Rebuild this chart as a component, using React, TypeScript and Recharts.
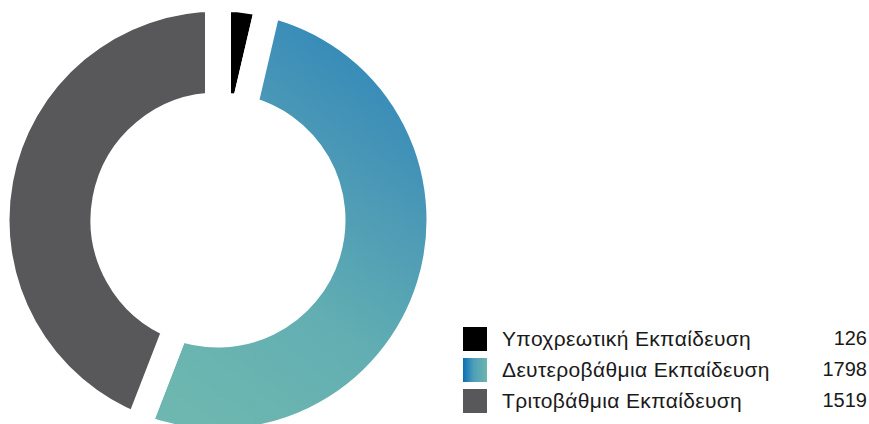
import { PieChart, Pie, Cell, Legend } from 'recharts';

const categories = ['Υποχρεωτική Εκπαίδευση', 'Δευτεροβάθμια Εκπαίδευση', 'Τριτοβάθμια Εκπαίδευση'];
const values = [126, 1798, 1519];
const colors = ['#000000', 'url(#tealGrad)', '#58585a'];
const swatches = ['#000000', 'linear-gradient(to right, #0b6fb5, #4f9fb8 45%, #6cb5ae)', '#58585a'];

const data = categories.map((name, i) => ({ name, value: values[i] }));

function LegendBox() {
  return (
    <div style={{ fontFamily: '"Liberation Sans", Arial, sans-serif', fontSize: 21, color: '#1a1a1a' }}>
      {categories.map((name, i) => (
        <div key={name} style={{ display: 'flex', alignItems: 'center', height: 31 }}>
          <div style={{ width: 24, height: 24, background: swatches[i], marginRight: 15 }} />
          <div style={{ flex: 1, whiteSpace: 'nowrap', letterSpacing: 0.35 }}>{name}</div>
          <div style={{ textAlign: 'right', fontSize: 20 }}>{values[i]}</div>
        </div>
      ))}
    </div>
  );
}

export default function App() {
  return (
    <div style={{ position: 'absolute', left: 0, top: 0, width: 869, height: 424, background: '#fff' }}>
      <PieChart width={869} height={424} margin={{ top: 0, right: 0, bottom: 0, left: 0 }}>
        <defs>
          <linearGradient id="tealGrad" x1="0.8" y1="0" x2="0.3" y2="1">
            <stop offset="0%" stopColor="#2a84b9" />
            <stop offset="30%" stopColor="#4896b7" />
            <stop offset="65%" stopColor="#62aeb2" />
            <stop offset="100%" stopColor="#6eb7b0" />
          </linearGradient>
        </defs>
        <Pie
          data={data}
          dataKey="value"
          nameKey="name"
          cx={218}
          cy={220}
          innerRadius={114.5}
          outerRadius={221.5}
          startAngle={90}
          endAngle={-270}
          stroke="#ffffff"
          strokeWidth={26}
          isAnimationActive={false}
        >
          {data.map((d, i) => (
            <Cell key={d.name} fill={colors[i]} />
          ))}
        </Pie>
        <Legend
          content={() => <LegendBox />}
          wrapperStyle={{ position: 'absolute', left: 463, top: 323, width: 404 }}
        />
      </PieChart>
    </div>
  );
}
